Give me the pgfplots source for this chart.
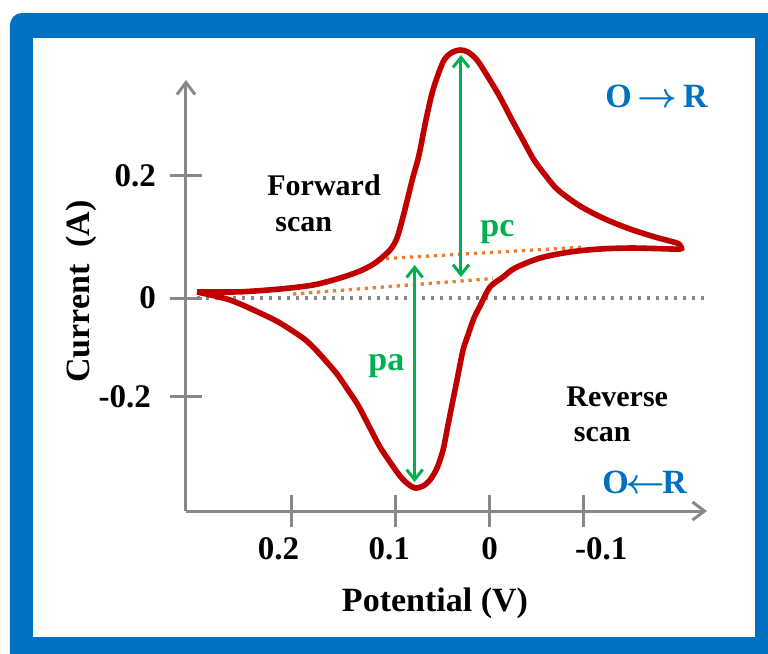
\documentclass[border=0pt]{standalone}
\usepackage{fontspec}
\setmainfont{Liberation Serif}
\usepackage{pgfplots}
\pgfplotsset{compat=1.18}
\usetikzlibrary{arrows.meta}
\definecolor{frameblue}{HTML}{0070C0}
\definecolor{cvred}{HTML}{C00000}
\definecolor{pgreen}{HTML}{00B050}
\definecolor{borange}{HTML}{ED7D31}
\definecolor{axgray}{HTML}{888888}
\newcommand\sh[2]{\makebox[0pt]{\kern#1\relax #2}}
\begin{document}
\begin{tikzpicture}[x=0.5pt,y=-0.5pt]
\useasboundingbox (0,0) rectangle (768,654);
\begin{scope}
\clip (0,0) rectangle (768,654);
\fill[frameblue, rounded corners=6pt] (10,13) rectangle (800,700);
\end{scope}
\fill[white] (33,38) rectangle (755,637);
\begin{axis}[
  at={(93pt,-255.5pt)}, anchor=south west,
  scale only axis, width=260.5pt, height=215.5pt,
  x dir=reverse,
  xmin=-0.2241, xmax=0.313, ymin=-0.3855, ymax=0.3946,
  clip=false,
  axis x line*=bottom, axis y line*=left,
  axis line style={draw=none},
  tick align=center, major tick length=16pt,
  every tick/.style={axgray, line width=1.5pt},
  xtick={0.2043,0.0966,0,-0.0966},
  xticklabels={\sh{-12.9pt}{0.2},\sh{-6.6pt}{0.1},0,\sh{18pt}{-0.1}},
  ytick={-0.1786,0,0.2214},
  yticklabels={-0.2\kern2.5pt,0,0.2},
  ticklabel style={font=\fontsize{16.5}{19}\selectfont\bfseries},
  xticklabel style={yshift=-1.5pt},
  yticklabel style={xshift=-3.5pt},
]
% zero line
\addplot[axgray, line width=1.7pt, dash pattern=on 1.7pt off 2.8pt] coordinates {(0.3016,0) (-0.2241,0)};
% baselines
\addplot[borange, line width=1.65pt, dash pattern=on 1.65pt off 2.35pt] coordinates {(0.1068,0.0715) (-0.0984,0.0923)};
\addplot[borange, line width=1.65pt, dash pattern=on 1.65pt off 2.35pt] coordinates {(0.2027,0.0072) (-0.0035,0.0353)};
% forward scan
\addplot[cvred, line width=2.8pt, smooth, tension=0.5] coordinates {
(0.3016,0.0109) (0.2676,0.0109) (0.2501,0.0118) (0.2161,0.0163) (0.1821,0.0235)
(0.1542,0.0362) (0.1336,0.0489) (0.1181,0.0633) (0.1027,0.0869) (0.0955,0.1086)
(0.0893,0.1466) (0.0841,0.1828) (0.0790,0.2190) (0.0728,0.2588) (0.0656,0.3222)
(0.0584,0.3765) (0.0480,0.4271) (0.0398,0.4434) (0.0305,0.4489) (0.0223,0.4452)
(0.0130,0.4308) (0.0016,0.4000) (-0.0107,0.3638) (-0.0231,0.3222) (-0.0344,0.2860)
(-0.0458,0.2498) (-0.0581,0.2208) (-0.0705,0.1955) (-0.0932,0.1665) (-0.1190,0.1430)
(-0.1447,0.1249) (-0.1705,0.1104) (-0.1932,0.0995) (-0.1963,0.0941)
};
% reverse scan
\addplot[cvred, line width=2.8pt, smooth, tension=0.5] coordinates {
(-0.1963,0.0941) (-0.1963,0.0887) (-0.1705,0.0896) (-0.1447,0.0905) (-0.1138,0.0887)
(-0.0829,0.0833) (-0.0520,0.0724) (-0.0262,0.0543) (-0.0139,0.0380) (-0.0004,0.0199)
(0.0099,-0.0145) (0.0161,-0.0362) (0.0223,-0.0670) (0.0274,-0.0941) (0.0336,-0.1484)
(0.0388,-0.1937) (0.0439,-0.2389) (0.0480,-0.2751) (0.0542,-0.3077) (0.0615,-0.3294)
(0.0687,-0.3403) (0.0769,-0.3439) (0.0841,-0.3367) (0.0924,-0.3222) (0.1027,-0.2968)
(0.1130,-0.2697) (0.1233,-0.2353) (0.1357,-0.1937) (0.1460,-0.1665) (0.1573,-0.1376)
(0.1697,-0.1122) (0.1810,-0.0905) (0.1924,-0.0724) (0.2161,-0.0452) (0.2367,-0.0271)
(0.2676,-0.0036) (0.3016,0.0109)
};
% peak arrows
\addplot[pgreen, line width=1.5pt, {Straight Barb[length=5pt,width=8pt]}-{Straight Barb[length=5pt,width=8pt]}] coordinates {(0.0773,-0.3330) (0.0773,0.0597)};
\addplot[pgreen, line width=1.5pt, {Straight Barb[length=5pt,width=8pt]}-{Straight Barb[length=5pt,width=8pt]}] coordinates {(0.0295,0.4398) (0.0295,0.0380)};
% axis lines
\draw[axgray, line width=1.5pt, -{Straight Barb[length=6pt,width=9pt]}] (axis cs:0.313,-0.3855) -- (axis cs:-0.2241,-0.3855);
\draw[axgray, line width=1.5pt, -{Straight Barb[length=6pt,width=9pt]}] (axis cs:0.313,-0.3855) -- (axis cs:0.313,0.3946);
\end{axis}
\begin{scope}[every node/.style={inner sep=0pt}]
\node[anchor=base, font=\fontsize{17}{20}\selectfont\bfseries] at (435,611.7) {Potential (V)};
\node[anchor=base, rotate=90, font=\fontsize{17}{20}\selectfont\bfseries] at (90,291.7) {Current~~(A)};
\node[anchor=base west, font=\fontsize{15}{18}\selectfont\bfseries] at (267,195) {Forward};
\node[anchor=base west, font=\fontsize{15}{18}\selectfont\bfseries] at (275,231.7) {scan};
\node[anchor=base west, font=\fontsize{15}{18}\selectfont\bfseries] at (566,406) {Reverse};
\node[anchor=base west, font=\fontsize{15}{18}\selectfont\bfseries] at (573.6,441.7) {scan};
\node[anchor=base west, text=frameblue, font=\fontsize{17}{20}\selectfont\bfseries] at (605,107) {O\hspace{0.17em}{\boldmath$\rightarrow$}\hspace{0.17em}R};
\node[anchor=base west, text=frameblue, font=\fontsize{17}{20}\selectfont\bfseries] at (602,493) {O\kern-0.09em{\boldmath$\leftarrow$}\kern-0.09em R};
\node[anchor=base west, text=pgreen, font=\fontsize{17}{20}\selectfont\bfseries] at (480,236) {pc};
\node[anchor=base west, text=pgreen, font=\fontsize{17}{20}\selectfont\bfseries] at (368,370) {pa};
\end{scope}
\end{tikzpicture}
\end{document}
